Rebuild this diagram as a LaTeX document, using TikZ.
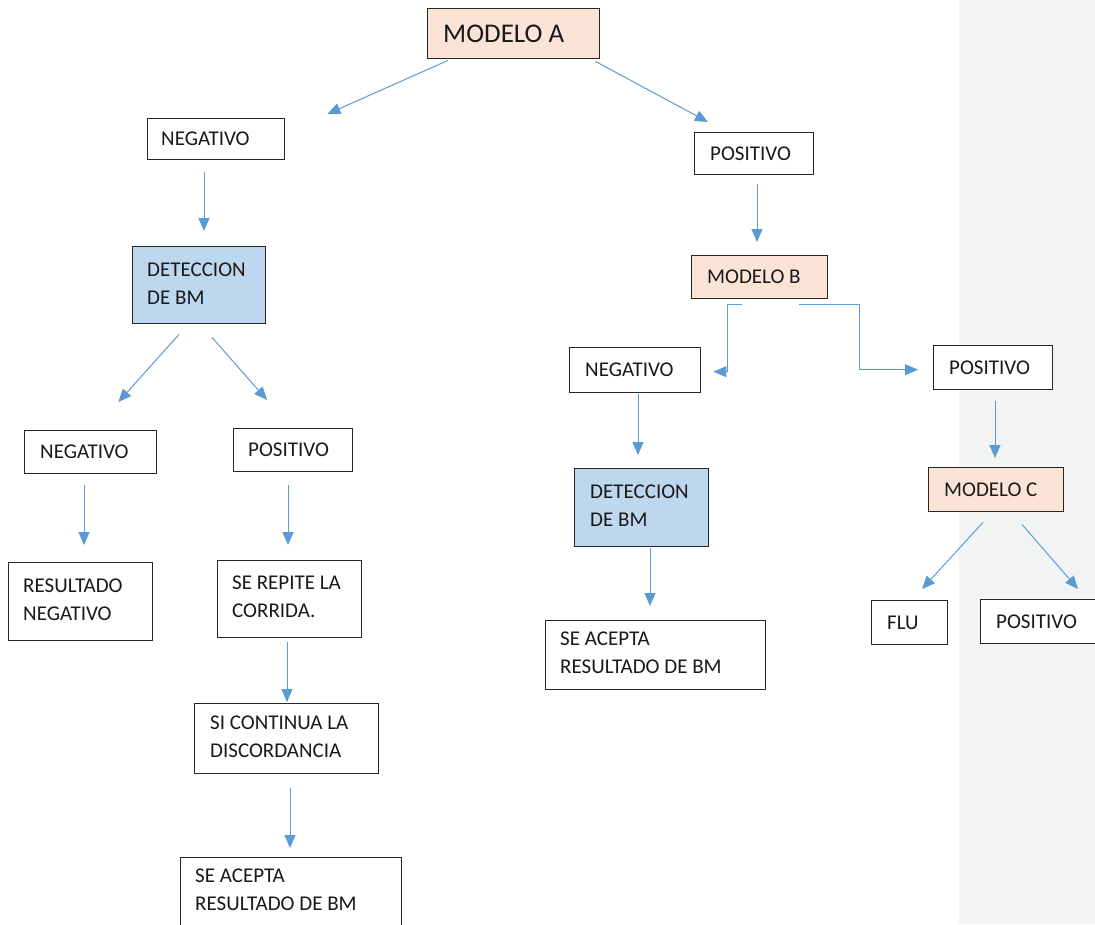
\documentclass[tikz,border=0pt]{standalone}
\usepackage{fontspec}
\setmainfont{Carlito}
\usetikzlibrary{arrows.meta,calc}
\definecolor{peach}{HTML}{FBE4D5}
\definecolor{lblue}{HTML}{BDD7EE}
\definecolor{arrowblue}{HTML}{5B9BD5}
\definecolor{panel}{HTML}{F2F3F3}
\begin{document}
\begin{tikzpicture}[x=1pt,y=-1pt,
  box/.style={draw=black!85,line width=1.4pt,fill=white,inner sep=0pt,anchor=north west},
  lbl/.style={inner sep=0pt,anchor=west,align=left,font=\fontsize{21}{28}\selectfont,text=black!90},
  biglbl/.style={lbl,font=\fontsize{27}{32}\selectfont},
  arr/.style={draw=arrowblue,line width=1pt,-{Triangle[length=13pt,width=11pt]}}]
\useasboundingbox (0,0) rectangle (1095,924);
\clip (0,0) rectangle (1095,924);
\fill[white] (0,0) rectangle (1095,924);
\fill[panel] (959,0) rectangle (1095,924);

% boxes
\node[box,fill=peach,minimum width=172,minimum height=50] (MA) at (427,8) {};
\node[box,minimum width=137,minimum height=41] (NEG1) at (147,118) {};
\node[box,minimum width=119,minimum height=42] (POS1) at (694,132) {};
\node[box,fill=lblue,minimum width=133,minimum height=77] (DET1) at (132,246) {};
\node[box,fill=peach,minimum width=136,minimum height=43] (MB) at (691,255) {};
\node[box,minimum width=131,minimum height=45] (NEG2) at (569,347) {};
\node[box,minimum width=119,minimum height=44] (POS2) at (933,345) {};
\node[box,minimum width=132,minimum height=43] (NEG3) at (24,430) {};
\node[box,minimum width=119,minimum height=43] (POS3) at (233,428) {};
\node[box,fill=lblue,minimum width=134,minimum height=78] (DET2) at (574,468) {};
\node[box,fill=peach,minimum width=135,minimum height=44] (MC) at (928,467) {};
\node[box,minimum width=144,minimum height=78] (RES) at (8,562) {};
\node[box,minimum width=144,minimum height=77] (REP) at (217,560) {};
\node[box,minimum width=76,minimum height=44] (FLU) at (871,600) {};
\node[box,minimum width=122,minimum height=44] (POS4) at (980,599) {};
\node[box,minimum width=220,minimum height=69] (ACE1) at (545,620) {};
\node[box,minimum width=184,minimum height=70] (CONT) at (194,703) {};
\node[box,minimum width=221,minimum height=69] (ACE2) at (180,857) {};

% labels
\node[biglbl] at ($(MA.west)+(16,0)$) {MODELO A};
\node[lbl] at ($(NEG1.west)+(14,0)$) {NEGATIVO};
\node[lbl] at ($(POS1.west)+(16,0)$) {POSITIVO};
\node[lbl] at ($(DET1.west)+(15,-2)$) {DETECCION\\DE BM};
\node[lbl] at ($(MB.west)+(16,0)$) {MODELO B};
\node[lbl] at ($(NEG2.west)+(16,0)$) {NEGATIVO};
\node[lbl] at ($(POS2.west)+(16,0)$) {POSITIVO};
\node[lbl] at ($(NEG3.west)+(16,0)$) {NEGATIVO};
\node[lbl] at ($(POS3.west)+(15,0)$) {POSITIVO};
\node[lbl] at ($(DET2.west)+(16,-2)$) {DETECCION\\DE BM};
\node[lbl] at ($(MC.west)+(16,0)$) {MODELO C};
\node[lbl] at ($(RES.west)+(15,-2)$) {RESULTADO\\NEGATIVO};
\node[lbl] at ($(REP.west)+(15,-2)$) {SE REPITE LA\\CORRIDA.};
\node[lbl] at ($(FLU.west)+(16,0)$) {FLU};
\node[lbl] at ($(POS4.west)+(16,0)$) {POSITIVO};
\node[lbl] at ($(ACE1.west)+(15,-2)$) {SE ACEPTA\\RESULTADO DE BM};
\node[lbl] at ($(CONT.west)+(16,-2)$) {SI CONTINUA LA\\DISCORDANCIA};
\node[lbl] at ($(ACE2.west)+(15,-2)$) {SE ACEPTA\\RESULTADO DE BM};

% connectors
\draw[arr] ($(MA.south west)+(21,1)$) -- ($(NEG1.north east)+(42,-4)$);
\draw[arr] ($(MA.south east)+(-5,2)$) -- ($(POS1.north west)+(14,-10)$);
\draw[arr] ($(NEG1.south west)+(57,12)$) -- ($(DET1.north west)+(72,-15)$);
\draw[arr] ($(POS1.south west)+(63,9)$) -- ($(MB.north west)+(66,-13)$);
\draw[arr] ($(DET1.south west)+(47,10)$) -- ($(NEG3.north east)+(-39,-28)$);
\draw[arr] ($(DET1.south west)+(80,13)$) -- ($(POS3.north west)+(34,-28)$);
\draw[arr] ($(MB.south west)+(51,5)$) -- ++(-15,0) |- ($(NEG2.east)+(12,1.5)$);
\draw[arr] ($(MB.south west)+(108,5)$) -- ++(60,0) |- ($(POS2.west)+(-15,2)$);
\draw[arr] ($(NEG3.south west)+(60,11)$) -- ($(RES.north west)+(76,-17)$);
\draw[arr] ($(POS3.south west)+(55,13)$) -- ($(REP.north west)+(71,-15)$);
\draw[arr] ($(REP.south west)+(70,4)$) -- ($(CONT.north west)+(93,-1)$);
\draw[arr] ($(CONT.south west)+(96,14)$) -- ($(ACE2.north west)+(110,-9)$);
\draw[arr] ($(NEG2.south west)+(69,1)$) -- ($(DET2.north west)+(64,-13)$);
\draw[arr] ($(DET2.south west)+(76,1)$) -- ($(ACE1.north west)+(105,-14)$);
\draw[arr] ($(POS2.south west)+(62,11)$) -- ($(MC.north west)+(67,-9)$);
\draw[arr] ($(MC.south west)+(55,10)$) -- ($(FLU.north west)+(51,-11)$);
\draw[arr] ($(MC.south west)+(94,12)$) -- ($(POS4.north west)+(98,-10)$);
\end{tikzpicture}
\end{document}
